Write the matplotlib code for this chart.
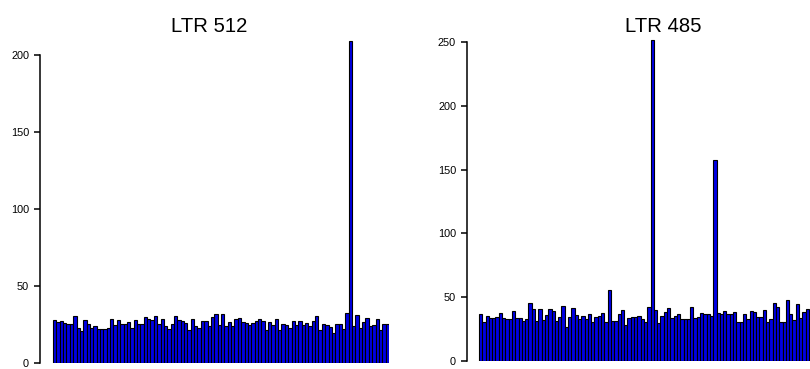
import numpy as np
import matplotlib.pyplot as plt

plt.rcParams['font.family'] = ['Liberation Sans', 'DejaVu Sans']

# read-off bar heights, 100 bars per panel
ltr512 = [28, 26.6, 27, 26, 25, 25, 30.5, 23, 21, 27.7,
          25, 23, 24, 22, 22, 22, 23, 28.5, 24.5, 28,
          25, 25, 26.6, 23, 27.7, 25.5, 25, 29.6, 28.5, 27.7,
          30.7, 25, 28.8, 24, 22, 25, 30.7, 28, 27, 26,
          21.6, 28.5, 24, 23,
          27.3, 27.3, 23.8, 29.9, 32, 24.5, 32, 23.8, 26.6, 24.2,
          28.4, 29.2, 26.6, 26.2, 24.5, 26.2, 27.3, 28.8, 27, 21.6,
          26.6, 24.5, 28.4, 21.6, 25.5, 24.9, 22.7, 27, 24.9, 27.3,
          24.9, 26.2, 23.8, 27, 30.3, 21.6, 25.1, 24.5, 23.4, 19.7,
          25.5, 25.5, 22.3, 32.7,
          209,
          23.8, 31.4, 22.9, 26.6, 29.2, 24, 24.5, 28.4, 21.2, 25.1, 25.5]

ltr485 = [36.7, 30.2, 35.4, 34, 33.9, 34.6, 37.8, 34, 32.8, 33.3,
          39.3, 34, 34, 31.5, 33.3, 45.6, 41.1, 31.3, 40.4, 32,
          35.9, 40.6, 39.3, 31.5, 34.6, 43.2, 26.8, 34.6, 41.7, 35.9,
          33.3, 35.4, 33.3, 37.2, 30.2, 34.6, 35.4, 37.8, 30.2,
          55.5,
          31.5, 31.5, 37.2, 39.8, 28.1, 33.9, 34.6, 34.6, 35.4, 32.6,
          30.2, 42.4,
          252,
          39.8, 29.9, 35.4, 38.5, 41.7, 34, 35.4, 36.5, 32.8, 32.8,
          33.3, 42.4, 33.9, 34.6, 37.8, 36.7, 36.7, 35.4,
          158,
          37.8, 36.5, 39.3, 36.5, 37.2, 38.5, 30.2, 30.7, 36.5, 32.8,
          39.3, 38.5, 34.6, 34.6, 39.8, 30.7, 33.3, 45.6, 42.4, 30.7,
          30.7, 48.2, 37.2, 32, 45, 33.9, 38.5, 40.4]

titles = ["LTR 512", "LTR 485"]
yticks512 = [0, 50, 100, 150, 200]
yticks485 = [0, 50, 100, 150, 200, 250]

W, H = 810, 369
fig = plt.figure(figsize=(W / 100, H / 100), dpi=100)


def px_axes(x0, x1, ytop, ybot):
    return fig.add_axes([x0 / W, 1 - ybot / H, (x1 - x0) / W, (ybot - ytop) / H])


ax1 = px_axes(40, 389, 40, 363)
ax2 = px_axes(467, 860, 39, 361)

panels = [
    (ax1, ltr512, yticks512, (-0.5 - 13 / 3.36, 99.5), 209.5),
    (ax2, ltr485, yticks485, (-0.5 - 12 / 3.3, -0.5 + (860 - 479) / 3.3), 252.5),
]

for ax, vals, ticks, xl, ytop in panels:
    x = np.arange(len(vals))
    ax.bar(x, vals, width=1.0, color='#0000E6', edgecolor='black', linewidth=0.8)
    ax.set_xlim(*xl)
    ax.set_ylim(0, ytop)
    for s in ['top', 'right', 'bottom']:
        ax.spines[s].set_visible(False)
    ax.spines['left'].set_bounds(ticks[0], ticks[-1])
    ax.spines['left'].set_linewidth(1.1)
    ax.set_yticks(ticks)
    ax.set_xticks([])
    ax.tick_params(axis='y', length=4.3, width=1.1, pad=3.6, labelsize=7.8)

fig.text(209 / W, 1 - 32 / H, titles[0], ha='center', va='baseline', fontsize=14.6)
fig.text(663 / W, 1 - 32 / H, titles[1], ha='center', va='baseline', fontsize=14.6)

fig.savefig('out.png', dpi=100)
